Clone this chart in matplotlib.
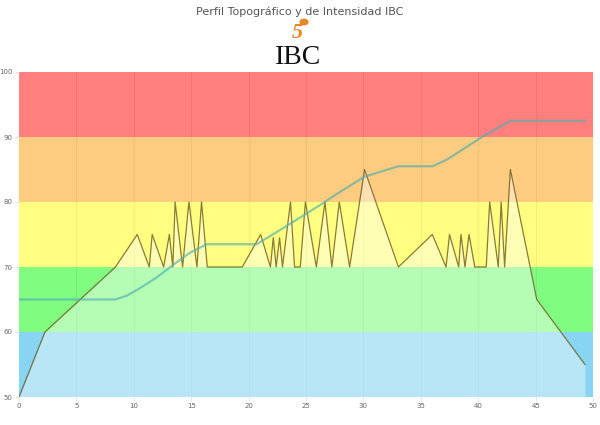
import matplotlib
matplotlib.use('Agg')
import matplotlib.pyplot as plt
from matplotlib.patches import Circle
import numpy as np

# intensity profile (km, % intensity)
int_x = [0, 2.26, 8.4, 10.3, 11.35, 11.6, 12.6, 13.1, 13.4, 13.6, 14.25, 14.8, 15.5, 15.9,
         16.4, 19.45, 21.05, 21.9, 22.15, 22.4, 22.7, 22.95, 23.65, 24.0, 24.5, 24.95,
         25.9, 26.65, 27.25, 27.9, 28.8, 30.1, 33.05, 36.0, 37.2, 37.5, 38.3, 38.5,
         38.85, 39.2, 39.7, 40.7, 41.0, 41.75, 42.0, 42.3, 42.8, 45.1, 49.3]
int_y = [50, 60, 70, 75, 70, 75, 70, 75, 70, 80, 70, 80, 70, 80,
         70, 70, 75, 70, 74.5, 70, 74.5, 70, 80, 70, 70, 80,
         70, 80, 70, 80, 70, 85, 70, 75, 70, 75, 70, 75,
         70, 75, 70, 70, 80, 70, 80, 70, 85, 65, 55]

# topographic profile
topo_x = [0, 8.4, 9.4, 10.5, 12.0, 13.4, 14.9, 16.35, 20.7, 23.3, 26.2, 28.0, 30.1,
          33.05, 36.0, 37.25, 40.15, 42.8, 49.3]
topo_y = [65, 65, 65.6, 66.7, 68.4, 70.3, 72.2, 73.5, 73.5, 76.3, 79.5, 81.6, 83.9,
          85.5, 85.5, 86.5, 89.8, 92.5, 92.5]

# intensity zones
zones = [(50, 60, '#87d5f2'), (60, 70, '#80fc80'), (70, 80, '#fffe80'),
         (80, 90, '#fdcc80'), (90, 100, '#ff7f7f')]

fig = plt.figure(figsize=(6, 4.25), dpi=100)
ax = fig.add_axes([19/600, 28/425, 574/600, 325/425])

for lo, hi, c in zones:
    ax.axhspan(lo, hi, color=c, lw=0, zorder=0)

for gx in range(5, 50, 5):
    ax.axvline(gx, color=(0, 0, 0, 0.06), lw=0.8, zorder=1)

ax.fill_between(int_x, 50, int_y, color='white', alpha=0.42, lw=0, zorder=2)
ax.plot(int_x, int_y, color='#6e5a1e', alpha=0.8, lw=0.9, zorder=3)
ax.plot(topo_x, topo_y, color=(80/255, 175/255, 175/255), alpha=0.65, lw=1.6, zorder=4)

ax.set_xlim(0, 50)
ax.set_ylim(50, 100)
ax.set_xticks(range(0, 51, 5))
ax.set_yticks(range(50, 101, 10))
for s in ax.spines.values():
    s.set_visible(False)
ax.tick_params(labelsize=5, colors='#666666', length=3, width=0.6, pad=1.5)
ax.tick_params(axis='both', color='#dddddd')

fig.text(0.5, 1 - 12/425, 'Perfil Topográfico y de Intensidad IBC', ha='center', va='center',
         fontsize=8, color='#555555')

# logo
fig.text(298/600, 1 - 57/425, 'IBC', ha='center', va='center', fontsize=20,
         family='Liberation Serif', color='#111111')
fig.patches.append(Circle((304/600, 1 - 22/425), 0.0065, transform=fig.transFigure,
                          color='#e8862a', figure=fig))
fig.text(297/600, 1 - 33/425, '5', ha='center', va='center', fontsize=16, fontweight='bold',
         style='italic', family='Liberation Serif', color='#e8862a')

fig.savefig('out.png', dpi=100)
